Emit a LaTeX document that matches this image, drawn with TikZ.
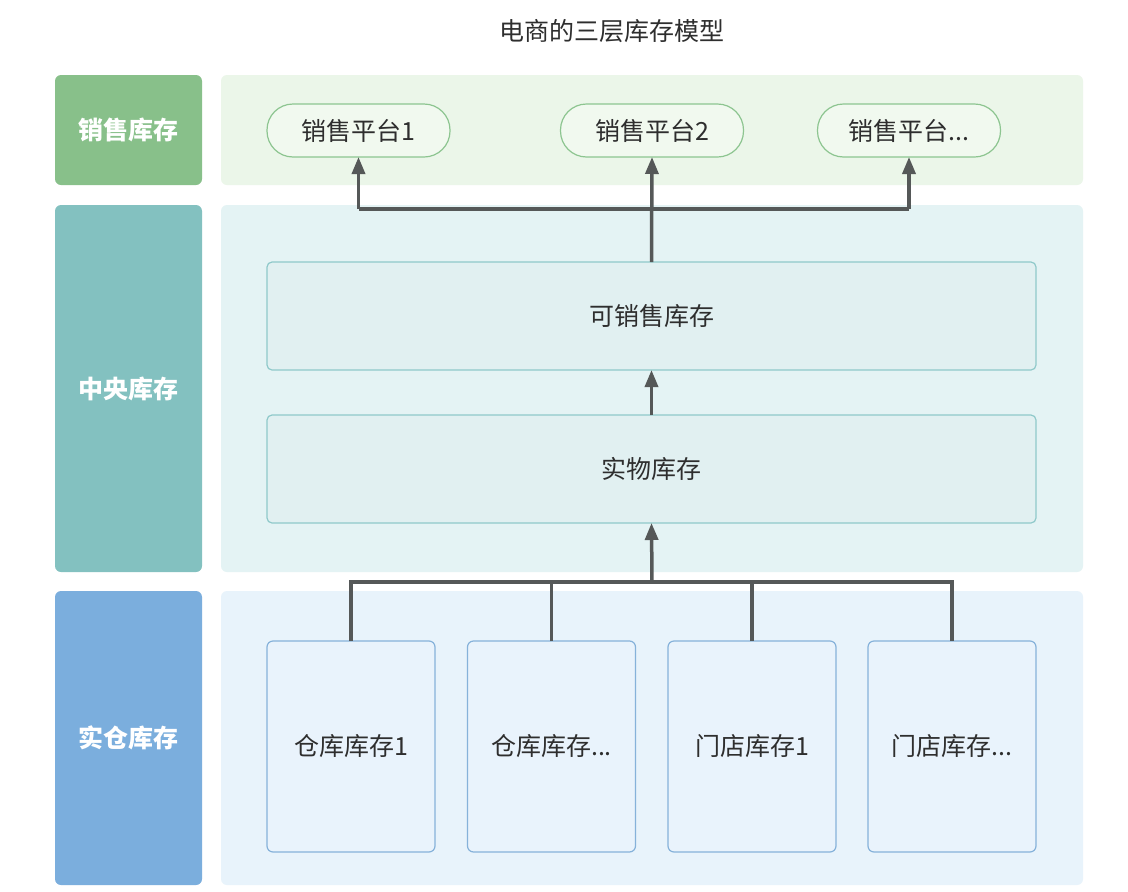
\documentclass[tikz,border=0pt]{standalone}
\usepackage{fontspec}
\setmainfont{Noto Sans CJK SC}
\usepackage{xcolor}
\usetikzlibrary{arrows.meta}
\definecolor{salesdark}{HTML}{88C08A}
\definecolor{salesbg}{HTML}{EBF6E9}
\definecolor{salesline}{HTML}{8DC590}
\definecolor{salesfill}{HTML}{F1F9EF}
\definecolor{centerdark}{HTML}{83C1C0}
\definecolor{centerbg}{HTML}{E4F3F4}
\definecolor{centerline}{HTML}{8FC9CA}
\definecolor{centerfill}{HTML}{E1F0F1}
\definecolor{stockdark}{HTML}{7BAEDD}
\definecolor{stockbg}{HTML}{E8F3FB}
\definecolor{stockline}{HTML}{86B2DA}
\definecolor{stockfill}{HTML}{E9F3FC}
\definecolor{linkgray}{HTML}{555858}
\definecolor{textgray}{HTML}{2E2E2E}

\begin{document}
\begin{tikzpicture}[
  x=1pt,y=-1pt,
  txt/.style={font=\fontsize{25}{30}\selectfont,text=textgray},
  layer/.style={rounded corners=6pt,inner sep=0pt,outer sep=0pt,minimum width=147pt,
    fill=#1,text=white,font=\fontsize{25}{30}\selectfont\bfseries},
  panel/.style={rounded corners=6pt,inner sep=0pt,outer sep=0pt,minimum width=862pt,fill=#1},
  pill/.style={txt,draw=salesline,fill=salesfill,line width=1.2pt,rounded corners=26pt,
    minimum width=183pt,minimum height=53pt,inner sep=0pt,outer sep=0pt},
  wide/.style={txt,draw=centerline,fill=centerfill,line width=1.2pt,rounded corners=5pt,
    minimum width=769pt,minimum height=108pt,inner sep=0pt,outer sep=0pt},
  tall/.style={txt,draw=stockline,fill=stockfill,line width=1.2pt,rounded corners=6pt,
    minimum width=168pt,minimum height=211pt,inner sep=0pt,outer sep=0pt},
  link/.style={draw=linkgray,line width=3.5pt},
  up/.style={link,-{Triangle[length=17pt,width=13pt]}}
  ]
\useasboundingbox[fill=white] (0,0) rectangle (1128,892);
\def\lx{128.5}
\def\px{652}
% title
\node[txt] (title) at (612,31) {电商的三层库存模型};
% layer labels and panels
\node[layer=salesdark,minimum height=110pt] (Lsales) at (\lx,130) {销售库存};
\node[layer=centerdark,minimum height=367pt] (Lcenter) at (\lx,388.5) {中央库存};
\node[layer=stockdark,minimum height=294pt] (Lstock) at (\lx,738) {实仓库存};
\node[panel=salesbg,minimum height=110pt] (Psales) at (\px,130) {};
\node[panel=centerbg,minimum height=367pt] (Pcenter) at (\px,388.5) {};
\node[panel=stockbg,minimum height=294pt] (Pstock) at (\px,738) {};
% sales platforms
\node[pill] (S1) at (358.5,130.5) {销售平台1};
\node[pill] (S2) at (652,130.5) {销售平台2};
\node[pill] (S3) at (909,130.5) {销售平台...};
% central stock
\node[wide] (avail) at (651.5,316) {可销售库存};
\node[wide] (phys) at (651.5,469) {实物库存};
% warehouses and stores
\node[tall] (W1) at (351,746.5) {仓库库存1};
\node[tall] (W2) at (551.5,746.5) {仓库库存...};
\node[tall] (M1) at (752,746.5) {门店库存1};
\node[tall] (M2) at (952,746.5) {门店库存...};
\coordinate (top) at (652,209);
\coordinate (bus) at (652,582);
% connectors
\draw[link] (W1.north) |- (bus) -| (M2.north);
\draw[link] (W2.north) -- (W2.north |- bus);
\draw[link] (M1.north) -- (M1.north |- bus);
\draw[up] (bus) -- (phys.south);
\draw[up] (phys.north) -- (avail.south);
\draw[up] (avail.north) -- (S2.south);
\draw[link] (S1.south |- top) -- (S3.south |- top);
\draw[up] (S1.south |- top) -- (S1.south);
\draw[up] (S3.south |- top) -- (S3.south);
\end{tikzpicture}
\end{document}
